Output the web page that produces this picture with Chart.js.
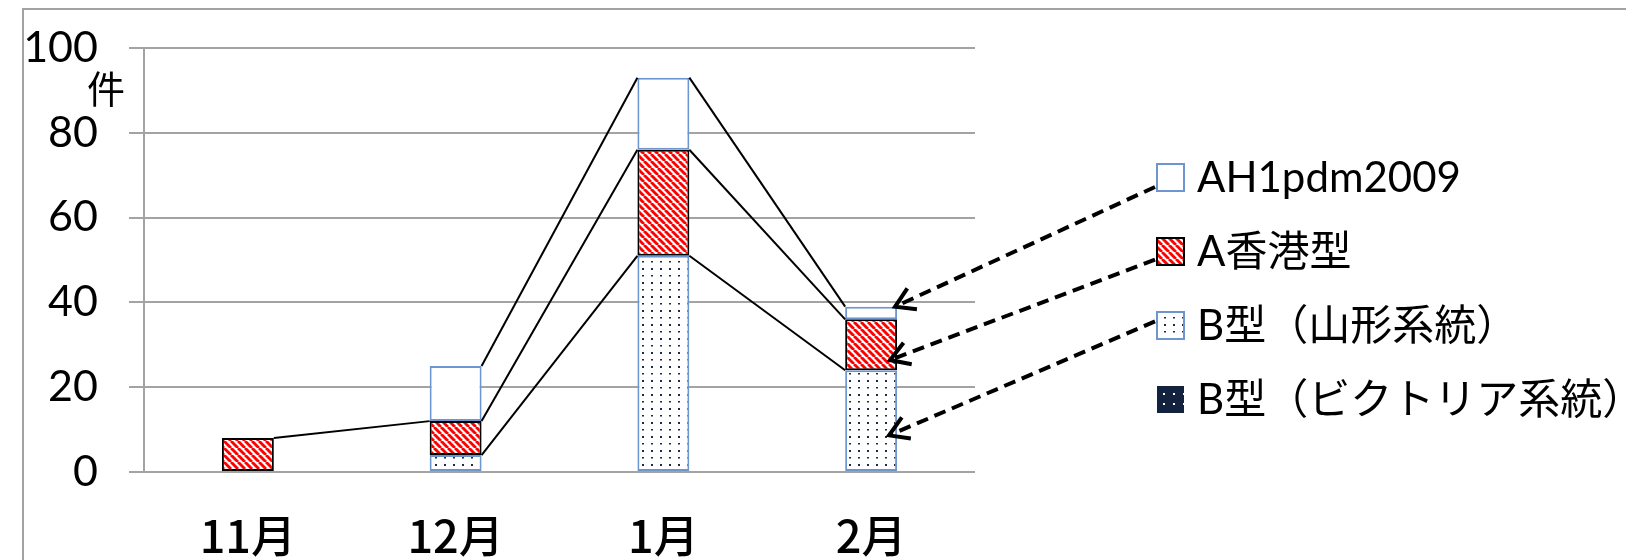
<!DOCTYPE html>
<html>
<head>
<meta charset="utf-8">
<script src="https://cdn.jsdelivr.net/npm/chart.js@4/dist/chart.umd.min.js"></script>
<style>
  html, body { margin: 0; padding: 0; background: #fff; }
  #wrap { width: 1626px; height: 560px; position: relative; }
</style>
</head>
<body>
<div id="wrap"><canvas id="c" width="1626" height="560"></canvas></div>
<script>
// Monthly counts of influenza virus detections by type
const categories = ['11月', '12月', '1月', '2月'];
const bVictoria  = [0, 0, 0, 0];
const bYamagata  = [null, 4, 51, 24];
const aHongKong  = [8, 8, 25, 12];
const ah1pdm     = [null, 13, 17, 3];
const seriesNames = ['B型（ビクトリア系統）', 'B型（山形系統）', 'A香港型', 'AH1pdm2009'];
const yTickValues = [0, 20, 40, 60, 80, 100];
const unitLabel = '件';

const LATIN = "Lato, 'Noto Sans CJK JP', sans-serif";
const CJK = "'Noto Sans CJK JP', sans-serif";
const GRID = '#a3a3a3';
const BLUE = '#6f95cf';
const NAVY = '#13233f';

// fill patterns
function tile(w, h, paint) {
  const c = document.createElement('canvas');
  c.width = w; c.height = h;
  const g = c.getContext('2d');
  paint(g);
  return g.createPattern(c, 'repeat');
}
const redHatch = tile(7, 7, g => {
  g.fillStyle = '#fff'; g.fillRect(0, 0, 7, 7);
  g.strokeStyle = '#ff0000'; g.lineWidth = 2.9;
  for (const o of [-7, 0, 7]) { g.beginPath(); g.moveTo(o, 0); g.lineTo(o + 7, 7); g.stroke(); }
});
const lightDots = tile(9, 14, g => {
  g.fillStyle = '#fff'; g.fillRect(0, 0, 9, 14);
  g.fillStyle = '#1d2b48';
  g.fillRect(3, 2, 2, 2);
  g.fillRect(3, 9, 2, 1.5);
});
const darkDots = tile(10, 10, g => {
  g.fillStyle = NAVY; g.fillRect(0, 0, 10, 10);
  g.fillStyle = '#fff';
  g.fillRect(3, 3, 2, 2);
});

const styles = [
  { bg: darkDots, border: NAVY, bw: 0 },
  { bg: lightDots, border: BLUE, bw: 2 },
  { bg: redHatch, border: '#000', bw: 2 },
  { bg: '#fff', border: BLUE, bw: 2 }
];
const seriesData = [bVictoria, bYamagata, aHongKong, ah1pdm];

// frame around the figure
const framePlugin = {
  id: 'frame',
  beforeDraw(chart) {
    const ctx = chart.ctx;
    ctx.save();
    ctx.strokeStyle = GRID;
    ctx.lineWidth = 2;
    ctx.beginPath();
    ctx.moveTo(chart.width, 9);
    ctx.lineTo(23, 9);
    ctx.lineTo(23, chart.height);
    ctx.stroke();
    ctx.restore();
  }
};

// lines joining the tops of stacked segments between neighbouring months
const seriesLinesPlugin = {
  id: 'seriesLines',
  afterDatasetsDraw(chart) {
    const ctx = chart.ctx;
    ctx.save();
    ctx.strokeStyle = '#000';
    ctx.lineWidth = 2;
    chart.data.datasets.forEach((ds, d) => {
      const meta = chart.getDatasetMeta(d);
      for (let i = 0; i < ds.data.length - 1; i++) {
        const a = ds.data[i], b = ds.data[i + 1];
        if (a == null || b == null || (a === 0 && b === 0)) continue;
        const e1 = meta.data[i], e2 = meta.data[i + 1];
        ctx.beginPath();
        ctx.moveTo(e1.x + e1.width / 2, e1.y);
        ctx.lineTo(e2.x - e2.width / 2, e2.y);
        ctx.stroke();
      }
    });
    ctx.restore();
  }
};

// unit label, legend, and dashed pointers from the legend to the last month's bar
const legendPlugin = {
  id: 'sideLegend',
  afterDraw(chart) {
    const ctx = chart.ctx;
    const area = chart.chartArea;
    const y = chart.scales.y;
    ctx.save();

    ctx.fillStyle = '#000';
    ctx.font = "38px " + CJK;
    ctx.textAlign = 'center';
    ctx.textBaseline = 'middle';
    ctx.fillText(unitLabel, area.left - 38, y.getPixelForValue(90.5));

    const boxX = area.right + 182;
    const box = 27;
    const rowTop = area.top + 116;
    const rowGap = 74;
    const order = [3, 2, 1, 0];
    const boxes = [];
    ctx.font = "42px " + LATIN;
    ctx.textAlign = 'left';
    order.forEach((d, k) => {
      const s = styles[d];
      const by = rowTop + k * rowGap;
      ctx.fillStyle = s.bg;
      ctx.fillRect(boxX, by, box, box);
      if (s.bw) {
        ctx.strokeStyle = s.border;
        ctx.lineWidth = s.bw;
        ctx.strokeRect(boxX, by, box, box);
      }
      ctx.fillStyle = '#000';
      ctx.fillText(seriesNames[d], boxX + box + 13, by + box / 2 + 1);
      boxes[d] = { x: boxX, y: by };
    });

    // pointers to the February bar
    const last = categories.length - 1;
    const bar = chart.getDatasetMeta(3).data[last];
    const right = bar.x + bar.width / 2;
    const cum = (d) => seriesData.slice(0, d + 1).reduce((s, arr) => s + (arr[last] || 0), 0);
    const pointers = [
      { from: boxes[3], fy: 0.85, tx: right - 2, tv: cum(3) },
      { from: boxes[2], fy: 0.8, tx: right - 7, tv: cum(1) + 0.2 * aHongKong[last] },
      { from: boxes[1], fy: 0.35, tx: right - 8, tv: cum(0) + 0.36 * bYamagata[last] }
    ];
    ctx.strokeStyle = '#000';
    ctx.lineWidth = 4;
    pointers.forEach(p => {
      const sx = p.from.x - 2, sy = p.from.y + p.fy * box;
      const ex = p.tx, ey = y.getPixelForValue(p.tv);
      ctx.setLineDash([12, 7]);
      ctx.beginPath(); ctx.moveTo(sx, sy); ctx.lineTo(ex, ey); ctx.stroke();
      ctx.setLineDash([]);
      const ang = Math.atan2(sy - ey, sx - ex);
      const len = 22, spread = 0.55;
      ctx.beginPath();
      ctx.moveTo(ex + len * Math.cos(ang - spread), ey + len * Math.sin(ang - spread));
      ctx.lineTo(ex, ey);
      ctx.lineTo(ex + len * Math.cos(ang + spread), ey + len * Math.sin(ang + spread));
      ctx.stroke();
    });
    ctx.restore();
  }
};

new Chart(document.getElementById('c'), {
  type: 'bar',
  data: {
    labels: categories,
    datasets: seriesData.map((arr, d) => ({
      label: seriesNames[d],
      data: arr,
      backgroundColor: styles[d].bg,
      borderColor: styles[d].border,
      borderWidth: styles[d].bw,
      borderSkipped: false,
      barPercentage: 0.25,
      categoryPercentage: 1.0
    }))
  },
  options: {
    responsive: false,
    animation: false,
    layout: { padding: { left: 0, top: 48, right: 651, bottom: 0 } },
    plugins: { legend: { display: false }, tooltip: { enabled: false } },
    scales: {
      x: {
        stacked: true,
        grid: { display: false, drawTicks: false },
        border: { display: false },
        ticks: { color: '#000', font: { family: CJK, size: 45, weight: '500' }, padding: 37 },
        afterFit(s) { s.height = 88; }
      },
      y: {
        stacked: true,
        min: 0, max: 100,
        afterBuildTicks(s) { s.ticks = yTickValues.map(v => ({ value: v })); },
        grid: { color: GRID, lineWidth: 2, tickLength: 15, drawTicks: true },
        border: { display: true, color: GRID, width: 2 },
        ticks: { color: '#000', font: { family: LATIN, size: 43 }, padding: 31 },
        afterFit(s) { s.width = 144; s.paddingTop = 0; s.paddingBottom = 0; }
      }
    }
  },
  plugins: [framePlugin, seriesLinesPlugin, legendPlugin]
});
</script>
</body>
</html>
